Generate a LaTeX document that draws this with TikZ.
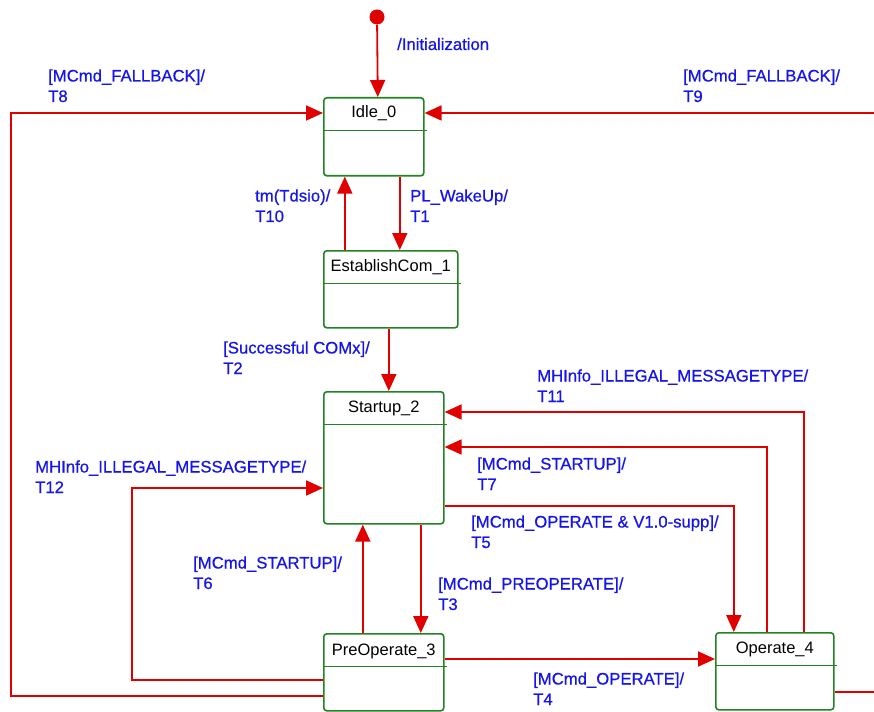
\documentclass[tikz,border=0pt]{standalone}
\usepackage{fontspec}
\setmainfont{Liberation Sans}
\newfontfamily\lblfamily{Liberation Sans}[FakeBold=0.6]
\usetikzlibrary{arrows.meta}
\definecolor{trred}{RGB}{225,0,0}
\definecolor{lblblue}{RGB}{20,20,235}
\definecolor{stgreen}{RGB}{35,130,35}
\newcommand{\lblfont}{\lblfamily\fontsize{16.7}{20.5}\selectfont}
\newcommand{\titlefont}{\fontsize{16.5}{20}\selectfont}
\begin{document}
\begin{tikzpicture}[x=1pt, y=-1pt,
  state/.style={draw=stgreen, line width=1.6pt, rounded corners=3pt, inner sep=0pt, anchor=north west},
  divider/.style={draw=stgreen, line width=1.6pt},
  title/.style={font=\titlefont, anchor=base, inner sep=0pt},
  trans/.style={draw=trred, line width=1.8pt, -{Triangle[length=17pt, width=15pt]}},
  lbl/.style={text=lblblue, font=\lblfont, align=left, anchor=base west, inner sep=0pt}]
  \useasboundingbox (0,0) rectangle (874,711);
  \node[state, minimum width=100pt, minimum height=78pt] (idle) at (323,97) {};
  \node[state, minimum width=134pt, minimum height=77pt] (estab) at (323,250) {};
  \node[state, minimum width=120pt, minimum height=132pt] (startup) at (323,391) {};
  \node[state, minimum width=120pt, minimum height=77pt] (preop) at (323,633) {};
  \node[state, minimum width=118pt, minimum height=77pt] (oper) at (715,632) {};
  \foreach \s in {idle, estab, startup, preop, oper}
    \draw[divider] ([yshift=-33.5pt]\s.north west) -- ([yshift=-33.5pt, xshift=2pt]\s.north east);
  \node[title] (idle-t) at ([yshift=-21pt]idle.north) {Idle\_0};
  \node[title] (estab-t) at ([yshift=-21pt]estab.north) {EstablishCom\_1};
  \node[title] (startup-t) at ([yshift=-21pt]startup.north) {Startup\_2};
  \node[title] (preop-t) at ([yshift=-22pt]preop.north) {PreOperate\_3};
  \node[title] (oper-t) at ([yshift=-21pt]oper.north) {Operate\_4};
  \node[circle, fill=trred, inner sep=0pt, minimum size=15pt] (init) at (377,17) {};
  \coordinate (t9e) at (874,113);
  \coordinate (t8c) at (11,113);
  \coordinate (t12c) at (132,488);
  \coordinate (oexit) at (874,692);
  \draw[trans] (init) -- ([xshift=4pt]idle.north);
  \draw[trans] (t9e) -- ([yshift=-16pt]idle.north east);
  \draw[trans] ([yshift=-63pt]preop.north west) -| (t8c) -- ([yshift=-16pt]idle.north west);
  \draw[trans] ([xshift=-46pt]estab.north) -- ([xshift=-29pt]idle.south);
  \draw[trans] ([xshift=26pt]idle.south) -- ([xshift=9pt]estab.north);
  \draw[trans] ([xshift=-2pt]estab.south) -- ([xshift=5pt]startup.north);
  \draw[trans] ([xshift=29pt]oper.north) |- ([yshift=-21pt]startup.north east);
  \draw[trans] ([xshift=-8pt]oper.north) |- ([yshift=-56pt]startup.north east);
  \draw[trans] ([yshift=-115pt]startup.north east) -| ([xshift=-41pt]oper.north);
  \draw[trans] ([xshift=37pt]startup.south) -- ([xshift=37pt]preop.north);
  \draw[trans] ([xshift=-21pt]preop.north) -- ([xshift=-21pt]startup.south);
  \draw[trans] ([yshift=-26pt]preop.north east) -- ([yshift=-27pt]oper.north west);
  \draw[trans] ([yshift=-47pt]preop.north west) -| (t12c) -- (t12c -| startup.west);
  \draw[draw=trred, line width=1.8pt] ([yshift=-60pt]oper.north east) -- (oexit);
  \node[lbl] (l0) at (397,50) {/Initialization};
  \node[lbl] (l8) at (48,102) {[MCmd\_FALLBACK]/\\T8};
  \node[lbl] (l9) at (683,102) {[MCmd\_FALLBACK]/\\T9};
  \node[lbl] (l10) at (255,222) {tm(Tdsio)/\\T10};
  \node[lbl] (l1) at (410,222) {PL\_WakeUp/\\T1};
  \node[lbl] (l2) at (223,374) {[Successful COMx]/\\T2};
  \node[lbl] (l11) at (537,402) {MHInfo\_ILLEGAL\_MESSAGETYPE/\\T11};
  \node[lbl] (l7) at (477,490) {[MCmd\_STARTUP]/\\T7};
  \node[lbl] (l12) at (35,493) {MHInfo\_ILLEGAL\_MESSAGETYPE/\\T12};
  \node[lbl] (l5) at (471,548) {[MCmd\_OPERATE \& V1.0-supp]/\\T5};
  \node[lbl] (l6) at (193,589) {[MCmd\_STARTUP]/\\T6};
  \node[lbl] (l3) at (438,610) {[MCmd\_PREOPERATE]/\\T3};
  \node[lbl] (l4) at (533,705) {[MCmd\_OPERATE]/\\T4};
\end{tikzpicture}
\end{document}
